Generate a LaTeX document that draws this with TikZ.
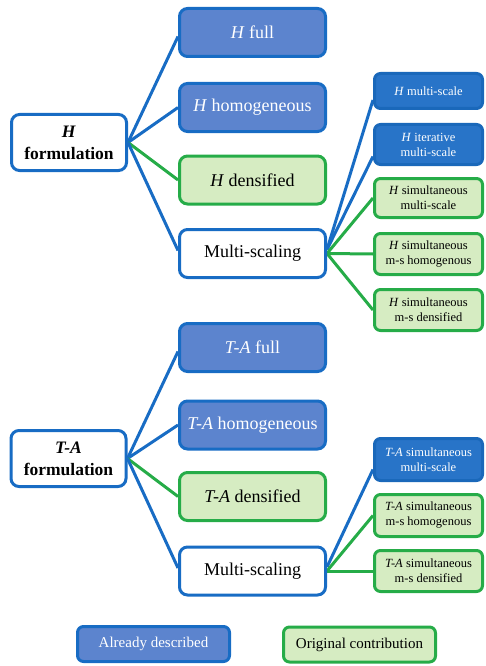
\documentclass[tikz,border=0pt]{standalone}
\usepackage{fontspec}
\setmainfont{Liberation Serif}
\usetikzlibrary{backgrounds}
\definecolor{bluefill}{RGB}{92,132,206}
\definecolor{blueline}{RGB}{24,108,196}
\definecolor{darkfill}{RGB}{40,116,200}
\definecolor{darkline}{RGB}{26,104,186}
\definecolor{greenfill}{RGB}{214,236,194}
\definecolor{greenline}{RGB}{38,172,72}
\tikzset{
  base/.style={rounded corners=8pt, line width=3pt, inner sep=2pt, align=center},
  rootbox/.style={base, draw=blueline, fill=white, minimum width=115pt, minimum height=56pt, font=\fontsize{17.5}{22}\selectfont\bfseries},
  midblue/.style={base, draw=blueline, fill=bluefill, text=white, minimum width=146pt, minimum height=48pt, font=\fontsize{18}{22}\selectfont},
  midgreen/.style={base, draw=greenline, fill=greenfill, minimum width=146pt, minimum height=48pt, font=\fontsize{18}{22}\selectfont},
  midwhite/.style={base, draw=blueline, fill=white, minimum width=146pt, minimum height=48pt, font=\fontsize{18}{22}\selectfont},
  rblue/.style={base, rounded corners=6pt, draw=darkline, fill=darkfill, text=white, minimum width=108pt, font=\fontsize{12.5}{15}\selectfont},
  rgreen/.style={base, rounded corners=6pt, draw=greenline, fill=greenfill, minimum width=108pt, font=\fontsize{12.5}{15}\selectfont},
  lblue/.style={base, rounded corners=6pt, draw=blueline, fill=bluefill, text=white, minimum width=152pt, minimum height=35pt, font=\fontsize{15}{18}\selectfont},
  lgreen/.style={base, rounded corners=6pt, draw=greenline, fill=greenfill, minimum width=152pt, minimum height=35pt, font=\fontsize{15}{18}\selectfont},
  bconn/.style={draw=blueline, line width=3pt},
  gconn/.style={draw=greenline, line width=3pt},
}
\begin{document}
\begin{tikzpicture}[x=1pt,y=-1pt]
\useasboundingbox (0,0) rectangle (485,666);
% H part
\node[rootbox] (Hf) at (69,142.5) {\textit{H}\\formulation};
\node[midblue] (Hfull) at (252.5,32.5) {\textit{H} full};
\node[midblue] (Hhom) at (252.5,107.5) {\textit{H} homogeneous};
\node[midgreen] (Hden) at (252.5,180) {\textit{H} densified};
\node[midwhite] (Hms) at (252.5,253.5) {Multi-scaling};
\node[rblue, minimum height=35pt] (H1) at (428.5,91) {\textit{H} multi-scale};
\node[rblue, minimum height=40pt] (H2) at (428.5,144.5) {\textit{H} iterative\\multi-scale};
\node[rgreen, minimum height=39pt] (H3) at (428.5,198) {\textit{H} simultaneous\\multi-scale};
\node[rgreen, minimum height=41pt] (H4) at (428.5,254) {\textit{H} simultaneous\\m-s homogenous};
\node[rgreen, minimum height=41pt] (H5) at (428.5,310) {\textit{H} simultaneous\\m-s densified};
% T-A part
\node[rootbox] (Tf) at (68.5,458.5) {\textit{T-A}\\formulation};
\node[midblue] (Tfull) at (252.5,347.5) {\textit{T-A} full};
\node[midblue] (Thom) at (252.5,425) {\textit{T-A} homogeneous};
\node[midgreen] (Tden) at (252.5,496.5) {\textit{T-A} densified};
\node[midwhite] (Tms) at (252.5,571) {Multi-scaling};
\node[rblue, minimum height=42pt] (T1) at (428.5,459.5) {\textit{T-A} simultaneous\\multi-scale};
\node[rgreen, minimum height=42pt] (T2) at (428.5,515.5) {\textit{T-A} simultaneous\\m-s homogenous};
\node[rgreen, minimum height=41pt] (T3) at (428.5,571) {\textit{T-A} simultaneous\\m-s densified};
% legend
\node[lblue] (L1) at (153.5,644) {Already described};
\node[lgreen] (L2) at (359.5,644.5) {Original contribution};
\begin{scope}[on background layer]
\draw[bconn] (Hf.east) -- ([yshift=-4pt]Hfull.west);
\draw[bconn] (Hf.east) -- (Hhom.west);
\draw[gconn] (Hf.east) -- (Hden.west);
\draw[bconn] (Hf.east) -- ([yshift=3pt]Hms.west);
\draw[bconn] ([yshift=4pt]Hms.east) -- ([yshift=-9pt]H1.west);
\draw[bconn] ([yshift=4pt]Hms.east) -- ([yshift=-12pt]H2.west);
\draw[gconn] (Hms.east) -- (H3.west);
\draw[gconn] (Hms.east) -- (H4.west);
\draw[gconn] (Hms.east) -- (H5.west);
\draw[bconn] (Tf.east) -- ([yshift=-4pt]Tfull.west);
\draw[bconn] (Tf.east) -- (Thom.west);
\draw[gconn] (Tf.east) -- (Tden.west);
\draw[bconn] (Tf.east) -- ([yshift=3pt]Tms.west);
\draw[bconn] ([yshift=4pt]Tms.east) -- ([yshift=-10pt]T1.west);
\draw[gconn] (Tms.east) -- (T2.west);
\draw[gconn] (Tms.east) -- (T3.west);
\end{scope}
\end{tikzpicture}
\end{document}
